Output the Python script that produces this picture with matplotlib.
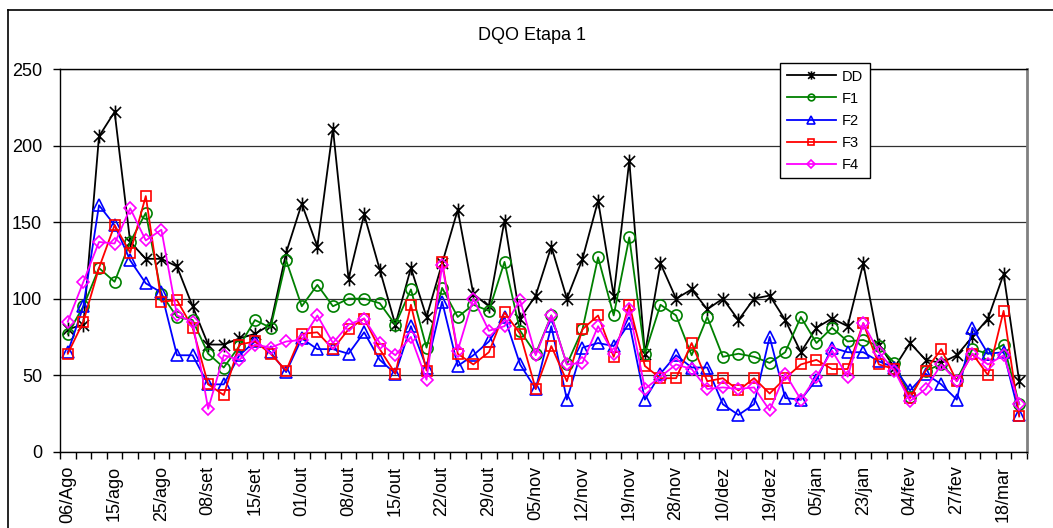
import numpy as np
import matplotlib
matplotlib.use("Agg")
import matplotlib.pyplot as plt
from matplotlib.path import Path
from matplotlib.lines import Line2D

plt.rcParams['font.family'] = ['Liberation Sans', 'DejaVu Sans']

# valeurs (62 coletas)
dd = [80, 83, 206, 222, 137, 126, 126, 121, 95, 70,
      70, 74, 77, 83, 130, 162, 134, 211, 113, 155,
      119, 83, 120, 88, 123, 158, 103, 95, 151, 87,
      102, 134, 100, 126, 164, 102, 190, 64, 123, 100,
      106, 93, 100, 86, 100, 102, 86, 65, 81, 87,
      82, 123, 70, 55, 71, 60, 58, 63, 75, 87,
      116, 46]
f1 = [77, 95, 120, 111, 137, 156, 103, 88, 86, 64,
      55, 69, 86, 81, 125, 95, 109, 95, 100, 100,
      97, 83, 106, 68, 107, 88, 96, 92, 124, 79,
      64, 89, 57, 80, 127, 89, 140, 64, 96, 89,
      63, 88, 62, 64, 62, 58, 65, 88, 71, 81,
      72, 73, 69, 58, 36, 53, 57, 47, 67, 64,
      70, 31]
f2 = [65, 95, 161, 148, 125, 110, 104, 63, 63, 44,
      44, 63, 72, 65, 52, 74, 67, 67, 64, 78,
      60, 51, 82, 55, 98, 56, 63, 72, 88, 57,
      41, 82, 34, 68, 71, 69, 84, 34, 51, 63,
      55, 55, 31, 24, 31, 75, 35, 34, 47, 68,
      65, 65, 59, 55, 40, 51, 44, 34, 81, 64,
      65, 24]
f3 = [64, 85, 120, 148, 130, 167, 98, 99, 81, 44,
      37, 70, 72, 64, 53, 77, 78, 67, 80, 87,
      67, 51, 96, 53, 124, 64, 57, 65, 91, 77,
      41, 69, 46, 80, 89, 62, 96, 56, 48, 48,
      71, 46, 48, 40, 48, 38, 48, 57, 60, 54,
      54, 84, 57, 54, 35, 53, 67, 46, 64, 50,
      92, 23]
f4 = [85, 111, 137, 136, 159, 138, 145, 89, 85, 28,
      63, 60, 70, 68, 72, 73, 89, 71, 83, 87,
      71, 63, 75, 47, 122, 66, 100, 79, 82, 99,
      63, 89, 57, 58, 82, 64, 93, 41, 49, 57,
      54, 41, 42, 41, 42, 27, 51, 34, 49, 66,
      49, 84, 65, 53, 33, 41, 57, 46, 64, 57,
      63, 31]

datas = ['06/Ago', '15/ago', '25/ago', '08/set', '15/set', '01/out', '08/out',
         '15/out', '22/out', '29/out', '05/nov', '12/nov', '19/nov', '28/nov',
         '10/dez', '19/dez', '05/jan', '23/jan', '04/fev', '27/fev', '18/mar']

# marcador estrela estilo Excel (X + barra vertical)
star = Path([(-1, -1), (1, 1), (-1, 1), (1, -1), (0, -1.25), (0, 1.25)],
            [Path.MOVETO, Path.LINETO, Path.MOVETO, Path.LINETO, Path.MOVETO, Path.LINETO])

series = [
    ("DD", dd, 'black', star, 10),
    ("F1", f1, '#008000', 'o', 8),
    ("F2", f2, '#0000FF', '^', 8.5),
    ("F3", f3, '#FF0000', 's', 7.5),
    ("F4", f4, '#FF00FF', 'D', 6.5),
]

fig = plt.figure(figsize=(10.53, 5.28), dpi=100)
ax = fig.add_axes([60 / 1053, 1 - 451.7 / 528, 967 / 1053, 382.7 / 528])

x = np.arange(len(dd))
for nome, vals, cor, mk, ms in series:
    ax.plot(x, vals, color=cor, lw=1.3, marker=mk, markersize=ms,
            markerfacecolor='none', markeredgecolor=cor, markeredgewidth=1.2,
            label=nome, zorder=3)

ax.set_xlim(-0.5, len(dd) - 0.5)
ax.set_ylim(0, 250)
ax.set_yticks(np.arange(0, 251, 50))
ax.yaxis.grid(True, color='#303030', lw=0.9)
ax.set_axisbelow(True)
ax.tick_params(axis='y', direction='out', length=5, width=1, labelsize=13, pad=8)

ax.set_xticks(np.arange(0, len(dd), 3))
ax.set_xticklabels(datas, rotation=90, va='top', ha='center', fontsize=13)
ax.set_xticks(np.arange(-0.5, len(dd), 1), minor=True)
ax.tick_params(axis='x', which='major', length=0, pad=10)
ax.tick_params(axis='x', which='minor', direction='out', length=5, width=1)

for s in ['left', 'bottom', 'top']:
    ax.spines[s].set_color('black')
    ax.spines[s].set_linewidth(1)
ax.spines['right'].set_color('#808080')
ax.spines['right'].set_linewidth(2)

fig.text(532 / 1053, 1 - 35 / 528, "DQO Etapa 1", ha='center', va='center', fontsize=13)

leg = ax.legend(loc='upper left', bbox_to_anchor=(780 / 1053, 1 - 63 / 528),
                bbox_transform=fig.transFigure, borderaxespad=0,
                fontsize=10.5, markerscale=0.6,
                handlelength=3.4, handletextpad=0.4, labelspacing=0.55,
                borderpad=0.45, fancybox=False, framealpha=1, edgecolor='black')
leg.get_frame().set_linewidth(1)

# bordure du graphique (zone de graphique Excel)
fig.add_artist(Line2D([8 / 1053, 1.0], [1 - 10 / 528] * 2, color='black', lw=1.2,
                      transform=fig.transFigure))
fig.add_artist(Line2D([8 / 1053] * 2, [0, 1 - 10 / 528], color='black', lw=1.2,
                      transform=fig.transFigure))

fig.savefig("out.png", dpi=100)
